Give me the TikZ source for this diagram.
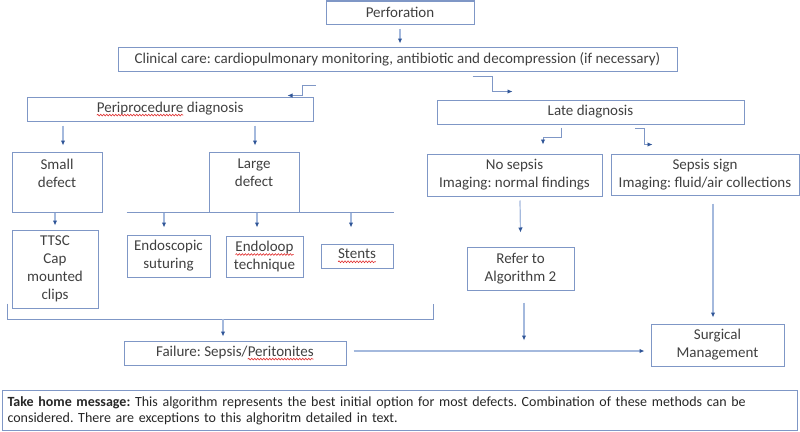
\documentclass[tikz,border=0pt]{standalone}
\usepackage{fontspec}
\setmainfont{Carlito}
\usetikzlibrary{arrows.meta,positioning,decorations.pathmorphing}
\frenchspacing

\definecolor{boxline}{HTML}{7F97C6}
\definecolor{shaft}{HTML}{A4B9DD}
\definecolor{tipblue}{HTML}{2F5597}
\definecolor{txtgray}{HTML}{404040}
\definecolor{spellred}{HTML}{E03030}

% red spell-check wave under a word
\newcommand{\spellmark}[1]{%
  \tikz[baseline=(word.base)]{%
    \node[inner sep=0pt,outer sep=0pt,minimum size=0pt,draw=none,anchor=base] (word) {#1};
    \draw[spellred,line width=0.6pt,decorate,decoration={snake,amplitude=0.9pt,segment length=3pt}]
      ([yshift=-3pt]word.base west) -- ([yshift=-3pt]word.base east);}}

\begin{document}
\begin{tikzpicture}
[x=1pt,y=-1pt,
  box/.style={draw=boxline,line width=1pt,text=txtgray,align=center,inner sep=0pt,%
    font=\fontsize{15}{18}\selectfont},
  boxtext/.style={text=txtgray,align=center,inner sep=0pt,font=\fontsize{15}{18}\selectfont},
  arr/.style={draw=shaft,line width=1.2pt,-{Latex[length=5pt,width=4.5pt,color=tipblue]}},
  elbow/.style={arr,draw=boxline,line width=0.9pt},
  bar/.style={draw=boxline,line width=1pt}]
\useasboundingbox (0,0) rectangle (800,431);
%% boxes
\foreach \name/\x/\y/\w/\h/\txt in {
  perf/400/12.5/148/23/{Perforation},
  care/397.5/59/559/24/{Clinical care: cardiopulmonary monitoring, antibiotic and decompression (if necessary)},
  peri/170/109/286/24/{\spellmark{Periprocedure} diagnosis},
  late/590.5/112/307/24/{Late diagnosis},
  small/57/182/90/60/{},
  large/254/182/90/60/{},
  ttsc/55/269/86/78/{TTSC\\Cap\\mounted\\clips},
  endo/168.5/256/83/42/{Endoscopic\\suturing},
  loop/264.5/256.5/77/41/{\spellmark{Endoloop}\\technique},
  stents/357/256/72/24/{\spellmark{Stents}},
  nosep/514.5/175/175/42/{No sepsis\\Imaging: normal findings},
  sepsis/705/174.5/188/41/{Sepsis sign\\Imaging: fluid/air collections},
  refer/520.5/268.5/107/43/{Refer to\\Algorithm 2},
  failure/235/353/222/24/{Failure: Sepsis/\spellmark{Peritonites}},
  surgical/717.5/345/133/42/{Surgical\\Management}} {
  \node[box,minimum width=\w pt,minimum height=\h pt] (\name) at (\x,\y) {\txt};
}
\node[boxtext,below=7pt of small.north] (smalltext) {Small\\defect};
\node[boxtext,below=7pt of large.north] (largetext) {Large\\defect};

%% connectors
\draw[arr] ([yshift=-4]perf.south) -- ([yshift=3]care.north -| perf.south);
\draw[elbow] ([xshift=2,yshift=-14]peri.north east |- care.south) -- ++(-13,0)
  |- ([xshift=-26,yshift=1]peri.north east);
\draw[elbow] ([xshift=36,yshift=-5]late.north west |- care.south) -- ++(20,0)
  |- ([xshift=76,yshift=8]late.north west);
\draw[arr] ([xshift=6,yshift=-4]small.north |- peri.south) -- ([xshift=6,yshift=6]small.north);
\draw[arr] ([xshift=1,yshift=-4]large.north |- peri.south) -- ([xshift=1,yshift=6]large.north);
\draw[arr] (ttsc.north |- small.south) -- ([yshift=4]ttsc.north);
\draw[bar] (endo.west |- large.south) -- (stents.east |- large.south);
\foreach \dst/\dx in {endo/-4.5, loop/-7.5, stents/-6} {
  \draw[arr] ([xshift=\dx]\dst.north |- large.south) -- ([xshift=\dx,yshift=-15]\dst.north |- large.south);
}
\draw[bar] ([xshift=-4,yshift=5]ttsc.south west) |- ++(426,16) -- ++(0,-16);
\draw[arr] ([xshift=-12,yshift=22]failure.north) -- ([xshift=-12,yshift=4]failure.north);
\draw[elbow] ([xshift=-29.5,yshift=-3]late.south) -- ++(0,10)
  -| ([xshift=28.5,yshift=9]nosep.north);
\draw[elbow] ([xshift=44.5,yshift=-4]late.south) -- ++(9,0)
  |- ([xshift=42,yshift=9]sepsis.north west);
\draw[arr] ([xshift=5.5,yshift=-4]nosep.south) -- ([yshift=14]refer.north);
\draw[arr] ([xshift=3.5,yshift=-12]refer.south) -- ([xshift=3.5,yshift=-50]refer.south);
\draw[arr] ([xshift=8,yshift=-8]sepsis.south) -- ([xshift=-4.5,yshift=6]surgical.north);
\draw[arr] ([xshift=7,yshift=2]failure.east) -- ([xshift=-6,yshift=2]surgical.west |- failure.east);

%% message
\node[draw=boxline,line width=1pt,anchor=north west,inner xsep=5pt,inner ysep=6pt,
  text width=785pt,align=left,text=black!85,font=\fontsize{14}{16}\selectfont] (home) at (2,390)
  {\textbf{Take home message:} This algorithm represents the best initial option for most defects. Combination of these methods can be\\
   considered. There are exceptions to this alghoritm detailed in text.};
\end{tikzpicture}
\end{document}
